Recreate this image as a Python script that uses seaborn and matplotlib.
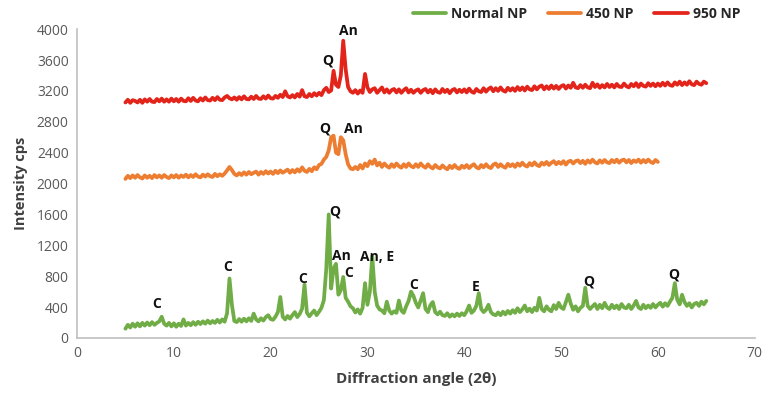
import numpy as np
import pandas as pd
import matplotlib
matplotlib.use("Agg")
import matplotlib.pyplot as plt
import seaborn as sns

# ---------------- data ----------------
series_names = ["Normal NP", "450 NP", "950 NP"]
series_colors = ["#70AD47", "#ED7D31", "#E3241B"]

angle_step = 0.25
normal_start = 5.0
np450_start = 5.0
np950_start = 5.0

normal_np = [
    120, 170, 135, 185, 145, 190, 150, 195, 160, 200, 165, 205, 170, 195, 215, 275, 185, 160, 195, 150,
    190, 145, 185, 155, 240, 160, 195, 165, 205, 170, 210, 180, 215, 185, 225, 190, 220, 195, 235, 200,
    240, 210, 320, 770, 430, 220, 205, 245, 210, 250, 215, 255, 220, 315, 240, 215, 255, 225, 270, 295,
    245, 235, 275, 335, 530, 275, 240, 285, 250, 295, 335, 270, 310, 380, 690, 325, 280, 320, 355, 295,
    340, 390, 490, 900, 1600, 640, 900, 960, 560, 620, 790, 520, 470, 410, 385, 330, 370, 315, 390, 710,
    430, 600, 1060, 600, 420, 370, 355, 320, 470, 355, 315, 345, 325, 485, 355, 325, 410, 480, 600, 545,
    455, 395, 485, 580, 375, 335, 425, 465, 335, 305, 340, 295, 285, 320, 275, 305, 280, 315, 285, 320,
    295, 345, 420, 325, 355, 415, 580, 375, 335, 365, 430, 335, 305, 295, 330, 295, 340, 305, 350, 315,
    360, 325, 385, 335, 370, 420, 345, 380, 335, 390, 355, 520, 375, 345, 410, 365, 345, 425, 375, 455,
    395, 375, 465, 560, 445, 365, 410, 345, 390, 415, 650, 415, 375, 410, 440, 375, 430, 385, 455, 395,
    375, 430, 385, 420, 375, 440, 395, 385, 430, 375, 420, 480, 395, 375, 430, 385, 420, 390, 440, 395,
    430, 455, 405, 450, 415, 470, 520, 710, 495, 435, 560, 465, 415, 450, 395, 440, 455, 415, 470, 435,
    480,
]

np_450 = [
    2060, 2100, 2070, 2105, 2075, 2110, 2080, 2065, 2105, 2075, 2100, 2070, 2110, 2080, 2105, 2075, 2110, 2085, 2070, 2105,
    2080, 2110, 2075, 2105, 2085, 2115, 2080, 2110, 2085, 2120, 2090, 2080, 2115, 2090, 2120, 2095, 2085, 2125, 2095, 2120,
    2100, 2130, 2170, 2215, 2175, 2125, 2105, 2135, 2110, 2145, 2115, 2150, 2120, 2140, 2155, 2115, 2150, 2125, 2160, 2130,
    2155, 2125, 2165, 2135, 2170, 2140, 2160, 2180, 2140, 2175, 2145, 2185, 2155, 2210, 2165, 2150, 2190, 2160, 2210, 2185,
    2240, 2255, 2310, 2345, 2430, 2600, 2620, 2400, 2380, 2600, 2560, 2380, 2250, 2195, 2185, 2215, 2185, 2240, 2195, 2260,
    2225, 2290, 2255, 2310, 2235, 2270, 2215, 2260, 2225, 2205, 2250, 2215, 2260, 2225, 2205, 2250, 2215, 2260, 2225, 2210,
    2250, 2215, 2260, 2225, 2205, 2250, 2215, 2195, 2240, 2210, 2195, 2235, 2205, 2185, 2230, 2200, 2240, 2205, 2190, 2230,
    2205, 2240, 2200, 2230, 2250, 2210, 2195, 2240, 2210, 2250, 2215, 2200, 2245, 2260, 2215, 2250, 2220, 2205, 2255, 2225,
    2250, 2215, 2260, 2230, 2270, 2235, 2220, 2265, 2235, 2275, 2240, 2225, 2270, 2245, 2280, 2240, 2270, 2290, 2250, 2280,
    2255, 2290, 2245, 2285, 2295, 2260, 2290, 2300, 2265, 2295, 2255, 2300, 2270, 2310, 2275, 2260, 2300, 2270, 2305, 2275,
    2265, 2305, 2275, 2310, 2270, 2300, 2310, 2275, 2305, 2265, 2300, 2280, 2310, 2270, 2305, 2275, 2310, 2280, 2265, 2305,
    2280,
]

np_950 = [
    3050, 3085, 3045, 3080, 3070, 3050, 3085, 3045, 3090, 3060, 3095, 3060, 3055, 3095, 3065, 3100, 3060, 3090, 3060, 3100,
    3065, 3095, 3060, 3100, 3070, 3065, 3105, 3070, 3110, 3075, 3065, 3105, 3075, 3115, 3080, 3075, 3110, 3080, 3120, 3085,
    3080, 3115, 3135, 3105, 3090, 3115, 3085, 3120, 3090, 3130, 3095, 3090, 3125, 3095, 3135, 3100, 3095, 3130, 3100, 3140,
    3105, 3100, 3135, 3110, 3150, 3120, 3195, 3130, 3115, 3145, 3115, 3160, 3125, 3210, 3130, 3120, 3160, 3130, 3170, 3140,
    3175, 3145, 3210, 3240, 3185, 3205, 3460, 3280, 3250, 3400, 3850, 3480, 3250, 3195, 3175, 3210, 3165, 3205, 3175, 3420,
    3245, 3185, 3220, 3235, 3175, 3210, 3245, 3180, 3220, 3175, 3210, 3225, 3180, 3220, 3175, 3210, 3235, 3180, 3215, 3175,
    3205, 3220, 3175, 3210, 3225, 3180, 3215, 3170, 3220, 3185, 3175, 3225, 3185, 3215, 3170, 3210, 3225, 3180, 3215, 3185,
    3220, 3180, 3230, 3190, 3175, 3225, 3195, 3185, 3235, 3190, 3225, 3245, 3195, 3235, 3200, 3245, 3205, 3190, 3240, 3205,
    3235, 3200, 3250, 3210, 3245, 3205, 3255, 3220, 3210, 3260, 3220, 3255, 3270, 3220, 3260, 3225, 3270, 3230, 3265, 3225,
    3260, 3275, 3230, 3270, 3240, 3305, 3245, 3235, 3275, 3240, 3280, 3245, 3235, 3305, 3250, 3285, 3240, 3275, 3245, 3290,
    3250, 3280, 3245, 3290, 3255, 3250, 3295, 3260, 3245, 3290, 3260, 3300, 3250, 3295, 3265, 3255, 3300, 3265, 3295, 3260,
    3295, 3265, 3305, 3270, 3310, 3275, 3265, 3310, 3280, 3320, 3275, 3310, 3280, 3325, 3285, 3275, 3320, 3290, 3280, 3320,
    3300,
]

# phase labels: (text, x, y)
peak_labels = [
    ("C", 8.2, 440), ("C", 15.6, 915), ("C", 23.3, 770), ("Q", 26.6, 1640),
    ("An", 27.3, 1060), ("C", 28.1, 840), ("An, E", 31.0, 1050), ("C", 34.8, 680),
    ("E", 41.2, 660), ("Q", 52.9, 735), ("Q", 61.6, 825),
    ("Q", 25.9, 3590), ("An", 28.0, 3975),
    ("Q", 25.6, 2710), ("An", 28.5, 2710),
]

x_ticks = [0, 10, 20, 30, 40, 50, 60, 70]
y_ticks = [0, 400, 800, 1200, 1600, 2000, 2400, 2800, 3200, 3600, 4000]

# ---------------- build long table ----------------
def angles(start, n):
    return start + angle_step * np.arange(n)

frames = []
for name, start, vals in [("Normal NP", normal_start, normal_np),
                          ("450 NP", np450_start, np_450),
                          ("950 NP", np950_start, np_950)]:
    frames.append(pd.DataFrame({"angle": angles(start, len(vals)),
                                "intensity": vals, "sample": name}))
df = pd.concat(frames, ignore_index=True)

# ---------------- plot ----------------
sns.set_theme(style="white")
plt.rcParams["font.family"] = ["Open Sans", "DejaVu Sans"]

fig = plt.figure(figsize=(7.64, 3.99), dpi=100)
ax = fig.add_axes([0.1008, 0.153, 0.887, 0.774])

sns.lineplot(data=df, x="angle", y="intensity", hue="sample",
             hue_order=series_names, palette=dict(zip(series_names, series_colors)),
             linewidth=2.7, ax=ax, errorbar=None, estimator=None, sort=False)

ax.set_xlim(0, 70)
ax.set_ylim(0, 4000)
ax.set_xticks(x_ticks)
ax.set_yticks(y_ticks)
ax.tick_params(axis="both", length=0, labelsize=10, labelcolor="#595959", pad=6)

for s in ["top", "right"]:
    ax.spines[s].set_visible(False)
for s in ["left", "bottom"]:
    ax.spines[s].set_color("#BFBFBF")
    ax.spines[s].set_linewidth(1.2)

ax.set_xlabel("Diffraction angle (2θ)", fontsize=11, fontweight="bold", color="#404040", labelpad=8)
ax.set_ylabel("Intensity cps", fontsize=10.5, fontweight="bold", color="#404040", labelpad=6)

for txt, x, y in peak_labels:
    ax.text(x, y, txt, ha="center", va="center", fontsize=10, fontweight="bold", color="#111111")

ax.get_legend().remove()
handles, labels = ax.get_legend_handles_labels()
for h in handles:
    h.set_linewidth(2.7)
fig.legend(handles, labels, loc="upper right", bbox_to_anchor=(0.985, 1.015), ncol=3,
           frameon=False, handlelength=2.4, columnspacing=1.5, handletextpad=0.35,
           prop={"weight": "bold", "size": 10})

fig.savefig("out.png", dpi=100)
